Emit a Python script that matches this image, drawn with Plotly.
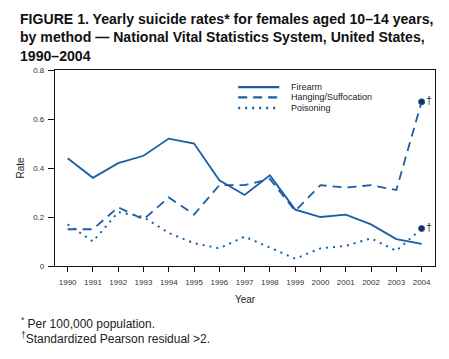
import plotly.graph_objects as go

years = list(range(1990, 2005))
firearm = [0.44, 0.36, 0.42, 0.45, 0.52, 0.50, 0.35, 0.29, 0.37, 0.23, 0.20, 0.21, 0.17, 0.11, 0.09]
hanging = [0.15, 0.15, 0.24, 0.19, 0.28, 0.21, 0.33, 0.33, 0.355, 0.225, 0.33, 0.32, 0.33, 0.31, 0.67]
poisoning = [0.17, 0.10, 0.22, 0.20, 0.135, 0.093, 0.072, 0.12, 0.075, 0.03, 0.072, 0.082, 0.113, 0.062, 0.153]
series_names = ["Firearm", "Hanging/Suffocation", "Poisoning"]
flag_years = [2004, 2004]
flag_values = [0.67, 0.153]
flag_labels = ["†", "†"]
y_ticks = [0, 0.2, 0.4, 0.6, 0.8]
y_tick_labels = ["0", "0.2", "0.4", "0.6", "0.8"]

blue = "#1a5ea8"
font = "Liberation Sans, Arial, sans-serif"
dashes = ["solid", "9px,6px", "2px,5px"]
widths = [1.8, 1.8, 2]

fig = go.Figure()
for name, vals, dash, w in zip(series_names, [firearm, hanging, poisoning], dashes, widths):
    fig.add_trace(go.Scatter(x=years, y=vals, mode="lines", name=name, showlegend=False,
                             line=dict(color=blue, width=w, dash=dash)))
fig.add_trace(go.Scatter(x=flag_years, y=flag_values, mode="markers+text", text=flag_labels,
                         textposition="middle right", showlegend=False,
                         textfont=dict(size=10, color="#222", family=font),
                         marker=dict(size=6, color="#1b2f5a", line=dict(color=blue, width=1))))

# manual compact legend
leg_y = [0.913, 0.86, 0.806]
for name, dash, w, ly in zip(series_names, dashes, widths, leg_y):
    fig.add_shape(type="line", xref="paper", yref="paper", x0=0.482, x1=0.59, y0=ly, y1=ly,
                  line=dict(color=blue, width=w + 0.4, dash=dash))
    fig.add_annotation(text=name, xref="paper", yref="paper", x=0.615, y=ly,
                       xanchor="left", yanchor="middle", showarrow=False,
                       font=dict(size=9, color="#222", family=font))

# page body has an 8px margin, so the figure is 8px smaller than the window
fig.update_layout(
    width=441, height=351,
    margin=dict(l=37, r=14, t=62, b=93),
    paper_bgcolor="white", plot_bgcolor="white",
    font=dict(family=font, color="#222", size=9),
    showlegend=False,
)
fig.add_annotation(
    text="<b>FIGURE 1. Yearly suicide rates* for females aged 10–14 years,<br>by method — National Vital Statistics System, United States,<br>1990–2004</b>",
    xref="paper", yref="paper", x=-0.097, y=(258 - 1) / 196, xanchor="left", yanchor="top",
    align="left", showarrow=False, font=dict(size=14.1, family=font, color="#111"))

fig.update_xaxes(range=[1989.5, 2004.53], tickmode="array", tickvals=years,
                 ticks="outside", ticklen=5, tickcolor="#111", showgrid=False,
                 showline=True, linecolor="#111", linewidth=1.2, mirror=True,
                 zeroline=False, tickfont=dict(size=8, color="#333"), ticklabelstandoff=3,
                 title=dict(text="Year", font=dict(size=10, color="#222"), standoff=10))
fig.update_yaxes(range=[0, 0.8], tickmode="array", tickvals=y_ticks, ticktext=y_tick_labels,
                 ticks="outside", ticklen=6, tickcolor="#111", showgrid=False,
                 showline=True, linecolor="#111", linewidth=1.2, mirror=True,
                 zeroline=False, tickfont=dict(size=8, color="#333"), ticklabelstandoff=2,
                 title=dict(text="Rate", font=dict(size=10, color="#222"), standoff=6))

fig.add_annotation(text="<sup>*</sup> Per 100,000 population.", xref="paper", yref="paper",
                   x=-0.095, y=-0.291, xanchor="left", yanchor="middle", showarrow=False,
                   font=dict(size=12, color="#222"))
fig.add_annotation(text="<sup>†</sup>Standardized Pearson residual >2.", xref="paper", yref="paper",
                   x=-0.095, y=-0.367, xanchor="left", yanchor="middle", showarrow=False,
                   font=dict(size=12, color="#222"))

fig.write_html("out.html")
